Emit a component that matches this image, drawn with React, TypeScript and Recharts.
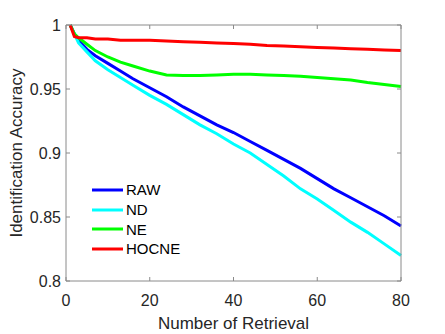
import { LineChart, Line, XAxis, YAxis, Legend } from 'recharts';

// number of retrieval (x)
const retrieval = [1, 2, 3, 5, 7, 10, 13, 16, 20, 24, 28, 32, 36, 40, 44, 48, 52, 56, 60, 64, 68, 72, 76, 80];

// identification accuracy per method
const raw = [1.0, 0.993, 0.988, 0.981, 0.976, 0.970, 0.964, 0.958, 0.951, 0.944, 0.936, 0.929, 0.922, 0.916, 0.909, 0.902, 0.895, 0.888, 0.880, 0.872, 0.865, 0.858, 0.851, 0.843];
const nd = [1.0, 0.993, 0.986, 0.979, 0.972, 0.965, 0.959, 0.953, 0.945, 0.938, 0.930, 0.922, 0.915, 0.907, 0.900, 0.891, 0.882, 0.872, 0.864, 0.855, 0.846, 0.838, 0.829, 0.820];
const ne = [1.0, 0.993, 0.990, 0.985, 0.980, 0.975, 0.971, 0.968, 0.964, 0.961, 0.9605, 0.9605, 0.961, 0.9615, 0.9615, 0.961, 0.9605, 0.960, 0.959, 0.958, 0.957, 0.955, 0.9535, 0.952];
const hocne = [1.0, 0.991, 0.990, 0.990, 0.989, 0.989, 0.988, 0.988, 0.988, 0.9875, 0.987, 0.9865, 0.986, 0.9855, 0.985, 0.984, 0.9835, 0.983, 0.9825, 0.982, 0.9815, 0.981, 0.9805, 0.980];

const xTicks = [0, 20, 40, 60, 80];
const yTicks = [0.8, 0.85, 0.9, 0.95, 1];
const xDomain = [0, 80];
const yDomain = [0.8, 1];

const series = [
  { key: 'RAW', color: '#0000ff' },
  { key: 'ND', color: '#00ffff' },
  { key: 'NE', color: '#00ff00' },
  { key: 'HOCNE', color: '#ff0000' },
];

const data = retrieval.map((n, i) => ({
  n,
  RAW: raw[i],
  ND: nd[i],
  NE: ne[i],
  HOCNE: hocne[i],
}));

const axisColor = '#8a8a8a';
const textColor = '#262626';
const font = '"Liberation Sans", Arial, sans-serif';

// chart size and margins; the plot box follows from these
const W = 445;
const H = 334;
const M = { top: 25, right: 44, left: 0, bottom: 0 };
const yAxisWidth = 66;
const xAxisHeight = 53;
const plot = {
  left: M.left + yAxisWidth,
  top: M.top,
  width: W - M.left - M.right - yAxisWidth,
  height: H - M.top - M.bottom - xAxisHeight,
};

// top and right edges of the MATLAB-style box, with inward ticks
function BoxEdges() {
  const right = plot.left + plot.width;
  const px = (v: number) => plot.left + ((v - xDomain[0]) / (xDomain[1] - xDomain[0])) * plot.width;
  const py = (v: number) => plot.top + plot.height - ((v - yDomain[0]) / (yDomain[1] - yDomain[0])) * plot.height;
  return (
    <svg
      width={W}
      height={H}
      style={{ position: 'absolute', left: 0, top: 0, pointerEvents: 'none' }}
    >
      <g stroke={axisColor} strokeWidth={1} fill="none">
        <line x1={plot.left} y1={plot.top} x2={right} y2={plot.top} />
        <line x1={right} y1={plot.top} x2={right} y2={plot.top + plot.height} />
        {xTicks.map((t) => (
          <line key={`tx${t}`} x1={px(t)} y1={plot.top} x2={px(t)} y2={plot.top + 4} />
        ))}
        {yTicks.map((t) => (
          <line key={`ty${t}`} x1={right - 4} y1={py(t)} x2={right} y2={py(t)} />
        ))}
      </g>
    </svg>
  );
}

function LegendBox() {
  return (
    <div style={{ fontFamily: font, fontSize: 15, color: '#000' }}>
      {series.map((s) => (
        <div key={s.key} style={{ display: 'flex', alignItems: 'center', height: 19.7 }}>
          <svg width={35} height={6}>
            <line x1={1} y1={3} x2={32} y2={3} stroke={s.color} strokeWidth={3} />
          </svg>
          <span>{s.key}</span>
        </div>
      ))}
    </div>
  );
}

export default function App() {
  return (
    <div style={{ position: 'absolute', left: 0, top: 0, width: W, height: H }}>
      <LineChart
        width={W}
        height={H}
        data={data}
        margin={M}
        style={{ fontFamily: font }}
      >
        <XAxis
          dataKey="n"
          type="number"
          domain={xDomain}
          ticks={xTicks}
          height={xAxisHeight}
          stroke={axisColor}
          tickSize={-4}
          tickMargin={18}
          tick={{ fontSize: 16, fill: textColor }}
          label={{ value: 'Number of Retrieval', position: 'insideBottom', offset: 5, fontSize: 17, fill: textColor }}
        />
        <YAxis
          type="number"
          domain={yDomain}
          ticks={yTicks}
          width={yAxisWidth}
          stroke={axisColor}
          tickSize={-4}
          tickMargin={9}
          tick={{ fontSize: 16, fill: textColor }}
          tickFormatter={(v) => String(+v.toFixed(2))}
          label={{
            value: 'Identification Accuracy',
            angle: -90,
            position: 'insideLeft',
            offset: 16,
            fontSize: 17,
            fill: textColor,
            style: { textAnchor: 'middle' },
          }}
        />
        <Legend
          layout="vertical"
          align="center"
          verticalAlign="middle"
          content={() => <LegendBox />}
          wrapperStyle={{ left: 91, top: 180, width: 'auto', height: 'auto' }}
        />
        {series.map((s) => (
          <Line
            key={s.key}
            dataKey={s.key}
            type="linear"
            stroke={s.color}
            strokeWidth={3}
            dot={false}
            isAnimationActive={false}
          />
        ))}
      </LineChart>
      <BoxEdges />
    </div>
  );
}
